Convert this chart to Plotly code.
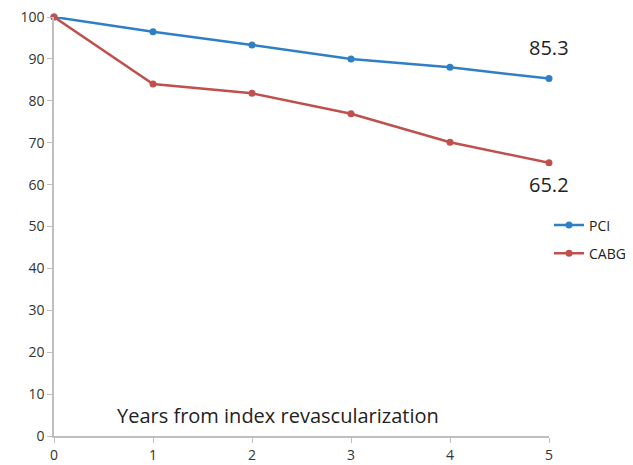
import plotly.graph_objects as go

years = [0, 1, 2, 3, 4, 5]
pci = [100, 96.5, 93.3, 90.0, 88.0, 85.3]
cabg = [100, 84.0, 81.8, 76.9, 70.1, 65.2]
y_ticks = [0, 10, 20, 30, 40, 50, 60, 70, 80, 90, 100]

FONT = "Open Sans"
fig = go.Figure()
fig.add_trace(go.Scatter(x=years, y=pci, name="PCI", mode="lines+markers", legendgroup="pci",
                         line=dict(color="#2F7FC5", width=2.5), cliponaxis=False,
                         marker=dict(size=7, color="#2F7FC5")))
fig.add_trace(go.Scatter(x=years, y=cabg, name="CABG", mode="lines+markers", legendgroup="cabg",
                         line=dict(color="#C0504D", width=2.5), cliponaxis=False,
                         marker=dict(size=7, color="#C0504D")))

fig.add_annotation(x=years[-1], y=pci[-1], text=f"{pci[-1]}", showarrow=False,
                   yshift=31, font=dict(size=20, color="#222222", family=FONT))
fig.add_annotation(x=years[-1], y=cabg[-1], text=f"{cabg[-1]}", showarrow=False,
                   yshift=-22, font=dict(size=20, color="#222222", family=FONT))
fig.add_annotation(x=2.26, y=5.0, text="Years from index revascularization", showarrow=False,
                   font=dict(size=20, color="#222222", family=FONT))

fig.update_layout(
    width=633, height=465,
    margin=dict(l=46, r=92, t=9, b=37, autoexpand=False),
    paper_bgcolor="white", plot_bgcolor="white",
    font=dict(family=FONT, size=14, color="#333333"),
    legend=dict(x=1.0, y=0.469, xanchor="left", yanchor="middle",
                font=dict(size=14, color="#222222"), itemwidth=30,
                tracegroupgap=7),
    showlegend=True,
)
fig.update_xaxes(range=[0, 5], tickvals=years, showgrid=False, zeroline=False,
                 showline=True, linecolor="#BFBFBF", linewidth=1.5, automargin=False,
                 ticks="outside", ticklen=5, tickcolor="#BFBFBF", ticklabeloverflow="allow",
                 tickfont=dict(size=14, color="#333333"))
fig.update_yaxes(range=[0, 100], tickvals=y_ticks, showgrid=False, zeroline=False,
                 showline=True, linecolor="#BFBFBF", linewidth=1.5, automargin=False,
                 ticks="outside", ticklen=5, tickcolor="#BFBFBF", ticklabeloverflow="allow",
                 tickfont=dict(size=14, color="#333333"))

fig.write_html("out.html")
